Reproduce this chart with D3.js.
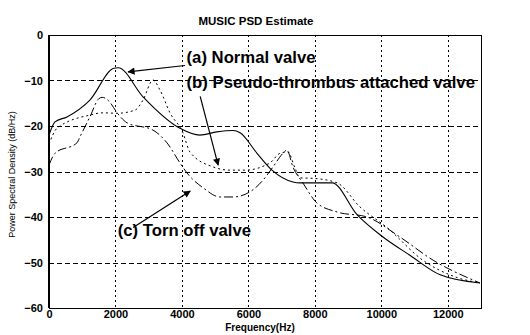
<!DOCTYPE html>
<html lang="en">
<head>
    <meta charset="utf-8">
    <script src="https://d3js.org/d3.v7.min.js"></script>
    <style>
        body { margin: 0; background: #fff; }
    </style>
</head>
<body>
    <div class="chart"></div>
    <script>
        // Data (frequency in Hz, PSD in dB/Hz)
        const freqA = [0, 180, 540, 1230, 1950, 2080, 2830, 3940, 4540, 5050, 5540, 5750, 6260, 6710, 7340, 7550, 8520, 9270, 10050, 10860, 11770, 12970];
        const psdA = [-22, -19.1, -18, -14.3, -7.3, -7.2, -13.6, -20.5, -22, -21.3, -21, -21.5, -26, -29.7, -32.3, -32.5, -32.5, -39.5, -44.4, -48.4, -52.7, -54.5];

        const freqB = [0, 240, 1230, 1620, 2050, 2590, 2830, 3130, 3340, 3640, 4030, 4240, 4940, 5450, 5900, 6650, 6950, 7190, 7400, 7550, 7940, 8670, 9360, 10170, 11250, 12280, 12970];
        const psdB = [-24, -20.5, -17.6, -17.1, -17.2, -16.5, -14.3, -9.9, -12.1, -17.1, -21.5, -25.7, -29, -29.7, -29.7, -28.1, -26, -25.7, -29.2, -31.4, -31.5, -32.5, -37.8, -42.3, -49.5, -53.3, -54.5];

        const freqC = [0, 180, 840, 930, 1230, 1500, 1600, 1800, 2050, 2350, 3130, 3550, 3940, 4150, 4640, 5150, 5540, 6140, 6440, 6740, 7040, 7160, 7340, 7640, 8060, 8670, 9570, 10560, 11560, 12970];
        const psdC = [-28.6, -26, -23.7, -22.4, -18, -14, -13.7, -14.5, -17.1, -19.3, -20.9, -23.7, -28.1, -30.3, -33.6, -35.6, -35.6, -34, -31.9, -29, -26, -25.3, -29, -32.5, -36.9, -38.9, -40, -44.4, -49.5, -54.5];

        const xTicks = [0, 2000, 4000, 6000, 8000, 10000, 12000];
        const yTicks = [0, -10, -20, -30, -40, -50, -60];

        // annotations: label text plus arrow tail and head in data units
        const labels = ["(a) Normal valve", "(b) Pseudo-thrombus attached valve", "(c) Torn off valve"];
        const labelPos = [[4140, -6.2], [4140, -11.7], [2070, -44.2]];
        const arrowFrom = [[4090, -6.7], [4550, -13.5], [2530, -42.3]];
        const arrowTo = [[2380, -8.1], [5090, -28.6], [4250, -34.3]];

        // Set Dimensions
        const width = 530;
        const height = 335;
        const margin = { top: 35, right: 49, bottom: 27, left: 49 };
        const xMax = width - margin.left - margin.right;
        const yMax = height - margin.top - margin.bottom;

        const svg = d3.select(".chart")
            .append("svg")
            .attr("width", width)
            .attr("height", height)
            .style("font-family", "'Liberation Sans', Arial, sans-serif");

        const g = svg.append("g")
            .attr("transform", "translate(" + margin.left + "," + margin.top + ")");

        const x = d3.scaleLinear().domain([0, 13000]).range([0, xMax]);
        const y = d3.scaleLinear().domain([-60, 0]).range([yMax, 0]);

        // grid (snapped to half pixels so the dots stay sharp)
        g.selectAll(".vgrid")
            .data(xTicks.slice(1))
            .enter()
            .append("line")
            .attr("class", "vgrid")
            .attr("x1", d => Math.round(x(d)) + 0.5).attr("x2", d => Math.round(x(d)) + 0.5)
            .attr("y1", 0).attr("y2", yMax)
            .attr("stroke", "#000").attr("stroke-width", 1)
            .attr("stroke-dasharray", "2,3")
            .attr("shape-rendering", "crispEdges");
        g.selectAll(".hgrid")
            .data(yTicks.slice(1, -1))
            .enter()
            .append("line")
            .attr("class", "hgrid")
            .attr("x1", 0).attr("x2", xMax)
            .attr("y1", d => Math.round(y(d)) + 0.5).attr("y2", d => Math.round(y(d)) + 0.5)
            .attr("stroke", "#000").attr("stroke-width", 1)
            .attr("stroke-dasharray", "5,3")
            .attr("shape-rendering", "crispEdges");

        // axes
        const xAxis = g.append("g")
            .attr("transform", "translate(0," + yMax + ")")
            .call(d3.axisBottom(x).tickValues(xTicks).tickSize(0).tickPadding(2).tickFormat(d3.format("d")));
        const yAxis = g.append("g")
            .call(d3.axisLeft(y).tickValues(yTicks).tickSize(0).tickPadding(6).tickFormat(d3.format("d")));
        [xAxis, yAxis].forEach(a => {
            a.select(".domain").remove();
            a.selectAll("text")
                .attr("font-family", "'Liberation Sans', Arial, sans-serif")
                .attr("font-size", 11)
                .attr("font-weight", "bold")
                .attr("fill", "#000");
        });

        // plot box
        g.append("rect")
            .attr("x", 0.5).attr("y", 0.5)
            .attr("width", xMax).attr("height", yMax)
            .attr("fill", "none").attr("stroke", "#000").attr("stroke-width", 1)
            .attr("shape-rendering", "crispEdges");
        g.append("line")
            .attr("x1", 0).attr("x2", 0).attr("y1", 0).attr("y2", yMax)
            .attr("stroke", "#000").attr("stroke-width", 2);

        // curves
        const line = d3.line()
            .x(d => x(d[0]))
            .y(d => y(d[1]))
            .curve(d3.curveMonotoneX);
        const series = [
            { f: freqA, v: psdA, dash: null, w: 1.1 },
            { f: freqB, v: psdB, dash: "2,3", w: 1 },
            { f: freqC, v: psdC, dash: "9,3,2,3", w: 1 }
        ];
        series.forEach(s => {
            g.append("path")
                .datum(d3.zip(s.f, s.v))
                .attr("fill", "none")
                .attr("stroke", "#000")
                .attr("stroke-width", s.w)
                .attr("stroke-dasharray", s.dash)
                .attr("d", line);
        });

        // arrow marker
        svg.append("defs").append("marker")
            .attr("id", "head")
            .attr("viewBox", "0 0 10 10")
            .attr("refX", 9).attr("refY", 5)
            .attr("markerWidth", 9).attr("markerHeight", 6)
            .attr("orient", "auto")
            .append("path")
            .attr("d", "M0,0 L10,5 L0,10 Z")
            .attr("fill", "#000");

        g.selectAll(".arrow")
            .data(d3.range(labels.length))
            .enter()
            .append("line")
            .attr("x1", i => x(arrowFrom[i][0])).attr("y1", i => y(arrowFrom[i][1]))
            .attr("x2", i => x(arrowTo[i][0])).attr("y2", i => y(arrowTo[i][1]))
            .attr("stroke", "#000").attr("stroke-width", 1.2)
            .attr("marker-end", "url(#head)");

        g.selectAll(".label")
            .data(labels)
            .enter()
            .append("text")
            .attr("x", (d, i) => x(labelPos[i][0]))
            .attr("y", (d, i) => y(labelPos[i][1]))
            .attr("font-size", 16.7)
            .attr("font-weight", "bold")
            .text(d => d);

        // title and axis labels
        svg.append("text")
            .attr("x", 256).attr("y", 25)
            .attr("text-anchor", "middle")
            .attr("font-size", 11.5)
            .attr("font-weight", "bold")
            .text("MUSIC PSD Estimate");
        svg.append("text")
            .attr("x", 260).attr("y", 331)
            .attr("text-anchor", "middle")
            .attr("font-size", 10)
            .attr("font-weight", "bold")
            .text("Frequency(Hz)");
        svg.append("text")
            .attr("transform", "translate(15," + (margin.top + yMax / 2 + 3) + ") rotate(-90)")
            .attr("text-anchor", "middle")
            .attr("font-size", 9)
            .text("Power Spectral Density (dB/Hz)");
    </script>
</body>
</html>
